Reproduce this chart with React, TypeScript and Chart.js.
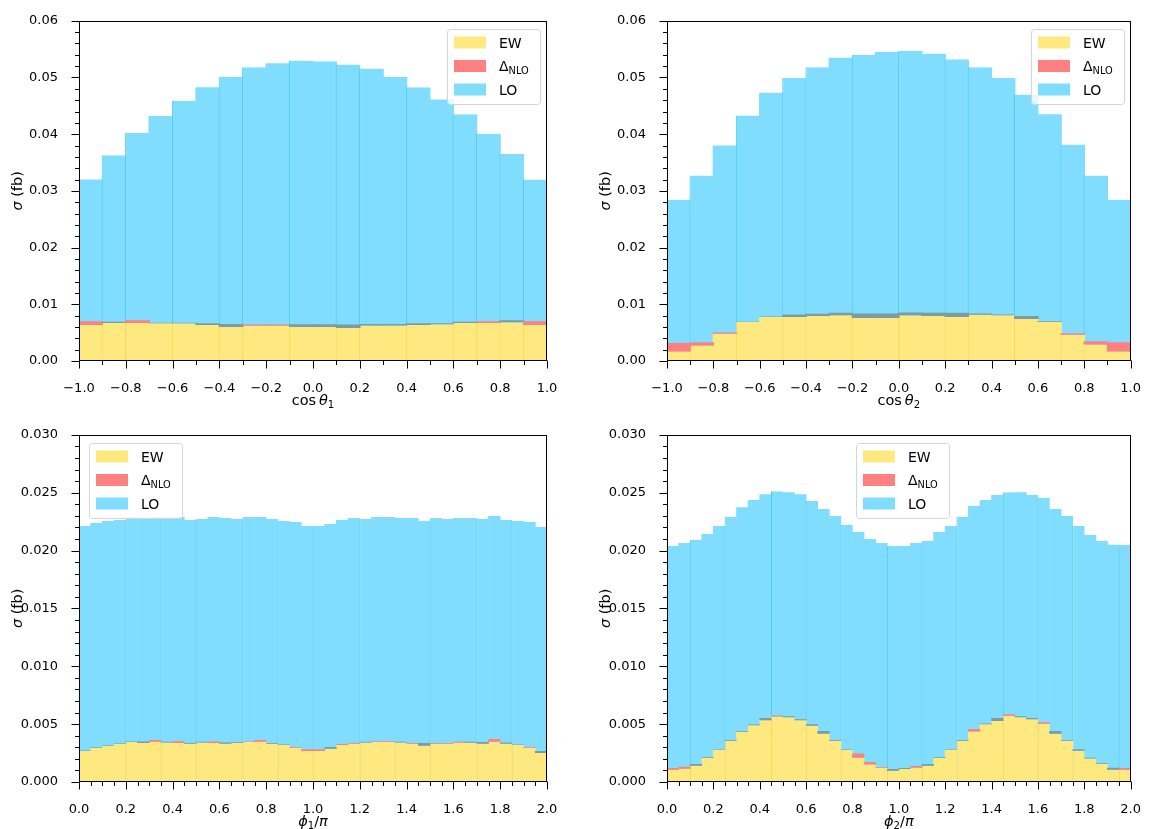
import React, { useEffect, useRef } from "react";
import { Chart, registerables } from "chart.js";

Chart.register(...registerables);

// ---------------- data ----------------
const cosEdges = [-1.0, -0.9, -0.8, -0.7, -0.6, -0.5, -0.4, -0.3, -0.2, -0.1, 0.0, 0.1, 0.2, 0.3, 0.4, 0.5, 0.6, 0.7, 0.8, 0.9, 1.0];
const phiEdges = [
  0.0, 0.05, 0.1, 0.15, 0.2, 0.25, 0.3, 0.35, 0.4, 0.45, 0.5, 0.55, 0.6, 0.65, 0.7, 0.75, 0.8, 0.85, 0.9, 0.95,
  1.0, 1.05, 1.1, 1.15, 1.2, 1.25, 1.3, 1.35, 1.4, 1.45, 1.5, 1.55, 1.6, 1.65, 1.7, 1.75, 1.8, 1.85, 1.9, 1.95, 2.0,
];

const cosTicks = [-1.0, -0.8, -0.6, -0.4, -0.2, 0.0, 0.2, 0.4, 0.6, 0.8, 1.0];
const cosTickLabels = ["−1.0", "−0.8", "−0.6", "−0.4", "−0.2", "0.0", "0.2", "0.4", "0.6", "0.8", "1.0"];
const phiTicks = [0.0, 0.2, 0.4, 0.6, 0.8, 1.0, 1.2, 1.4, 1.6, 1.8, 2.0];
const phiTickLabels = ["0.0", "0.2", "0.4", "0.6", "0.8", "1.0", "1.2", "1.4", "1.6", "1.8", "2.0"];
const yTicksTop = [0.0, 0.01, 0.02, 0.03, 0.04, 0.05, 0.06];
const yTickLabelsTop = ["0.00", "0.01", "0.02", "0.03", "0.04", "0.05", "0.06"];
const yTicksBottom = [0.0, 0.005, 0.01, 0.015, 0.02, 0.025, 0.03];
const yTickLabelsBottom = ["0.000", "0.005", "0.010", "0.015", "0.020", "0.025", "0.030"];

const legendLabels = ["EW", "Δ", "LO"];
const legendSub = ["", "NLO", ""];

// cos theta_1
const loCos1 = [0.0320, 0.0363, 0.0402, 0.0432, 0.0459, 0.0483, 0.0501, 0.0518, 0.0525, 0.0530, 0.0528, 0.0523, 0.0516, 0.0501, 0.0483, 0.0461, 0.0435, 0.0401, 0.0365, 0.0320];
const ewCos1 = [0.00636, 0.00671, 0.00670, 0.00665, 0.00665, 0.00636, 0.00601, 0.00620, 0.00620, 0.00601, 0.00601, 0.00584, 0.00624, 0.00624, 0.00636, 0.00647, 0.00670, 0.00670, 0.00682, 0.00636];
const dnloCos1 = [0.00063, -0.00023, 0.00047, -0.00011, -0.00011, -0.00030, -0.00052, 0.00022, 0.00022, -0.00046, -0.00046, -0.00058, -0.00030, -0.00030, -0.00030, -0.00017, -0.00023, 0.00029, -0.00035, 0.00063];

// cos theta_2
const loCos2 = [0.0284, 0.0327, 0.0380, 0.0433, 0.0473, 0.0499, 0.0518, 0.0535, 0.0540, 0.0545, 0.0547, 0.0542, 0.0532, 0.0518, 0.0499, 0.0470, 0.0435, 0.0382, 0.0327, 0.0284];
const ewCos2 = [0.00168, 0.00272, 0.00480, 0.00688, 0.00775, 0.00775, 0.00792, 0.00809, 0.00757, 0.00757, 0.00809, 0.00792, 0.00775, 0.00815, 0.00809, 0.00740, 0.00688, 0.00462, 0.00289, 0.00168];
const dnloCos2 = [0.00150, 0.00057, 0.00023, -0.00006, -0.00011, -0.00046, -0.00040, -0.00041, -0.00081, -0.00081, -0.00046, -0.00058, -0.00075, -0.00023, -0.00012, -0.00052, -0.00011, 0.00029, 0.00058, 0.00161];

// phi_1 / pi
const loPhi1 = [
  0.02212, 0.02238, 0.02255, 0.02264, 0.02289, 0.02272, 0.02289, 0.02289, 0.02289, 0.02264,
  0.02272, 0.02289, 0.02281, 0.02272, 0.02289, 0.02289, 0.02272, 0.02255, 0.02246, 0.02212,
  0.02212, 0.02229, 0.02264, 0.02281, 0.02272, 0.02289, 0.02289, 0.02281, 0.02281, 0.02255,
  0.02281, 0.02272, 0.02281, 0.02281, 0.02272, 0.02298, 0.02264, 0.02255, 0.02246, 0.02203,
];
const ewPhi1 = [
  0.00267, 0.00293, 0.00310, 0.00328, 0.00345, 0.00336, 0.00348, 0.00342, 0.00336, 0.00330,
  0.00342, 0.00336, 0.00330, 0.00339, 0.00345, 0.00348, 0.00330, 0.00319, 0.00296, 0.00267,
  0.00267, 0.00287, 0.00319, 0.00330, 0.00342, 0.00345, 0.00345, 0.00342, 0.00330, 0.00313,
  0.00330, 0.00330, 0.00339, 0.00339, 0.00330, 0.00348, 0.00330, 0.00325, 0.00296, 0.00250,
];
const dnloPhi1 = [
  -0.00006, -0.00006, -0.00006, -0.00005, -0.00006, -0.00015, 0.00014, -0.00006, 0.00017, -0.00006,
  -0.00006, 0.00014, -0.00012, -0.00006, 0.00006, 0.00014, -0.00006, -0.00006, 0.00006, 0.00015,
  0.00017, -0.00015, 0.00009, 0.00006, -0.00006, 0.00008, 0.00008, -0.00006, 0.00006, -0.00023,
  0.00006, 0.00006, 0.00009, -0.00009, -0.00015, 0.00023, -0.00012, -0.00003, 0.00006, -0.00017,
];

// phi_2 / pi
const loPhi2 = [
  0.02040, 0.02066, 0.02092, 0.02143, 0.02212, 0.02289, 0.02375, 0.02436, 0.02487, 0.02513,
  0.02504, 0.02487, 0.02427, 0.02358, 0.02298, 0.02221, 0.02160, 0.02100, 0.02066, 0.02040,
  0.02040, 0.02066, 0.02083, 0.02160, 0.02212, 0.02289, 0.02384, 0.02436, 0.02479, 0.02504,
  0.02504, 0.02479, 0.02453, 0.02358, 0.02298, 0.02212, 0.02135, 0.02083, 0.02049, 0.02049,
];
const ewPhi2 = [
  0.00106, 0.00115, 0.00141, 0.00207, 0.00279, 0.00356, 0.00434, 0.00491, 0.00534, 0.00566,
  0.00560, 0.00534, 0.00486, 0.00417, 0.00356, 0.00279, 0.00210, 0.00152, 0.00124, 0.00098,
  0.00112, 0.00124, 0.00141, 0.00207, 0.00279, 0.00356, 0.00437, 0.00500, 0.00526, 0.00572,
  0.00560, 0.00543, 0.00503, 0.00417, 0.00356, 0.00270, 0.00204, 0.00158, 0.00106, 0.00106,
];
const dnloPhi2 = [
  0.00015, 0.00017, -0.00014, -0.00006, -0.00005, -0.00006, -0.00006, -0.00006, -0.00018, 0.00009,
  -0.00009, -0.00009, -0.00014, -0.00023, -0.00006, -0.00005, 0.00037, 0.00020, 0.00005, -0.00014,
  -0.00009, 0.00014, -0.00014, -0.00006, -0.00005, -0.00006, 0.00020, -0.00006, -0.00026, 0.00014,
  -0.00009, -0.00009, 0.00014, -0.00023, -0.00006, -0.00014, -0.00006, -0.00006, -0.00018, 0.00015,
];

// ---------------- style ----------------
const FONT = "'DejaVu Sans', 'Liberation Sans', sans-serif";
const BLUE = "#80ddfd";
const YELLOW = "#fee981";
const RED = "#fe8080";
const GREY = "#7d9ca2";
const BLUE_SEAM = "#4ccaee";
const YELLOW_SEAM = "#fdd84c";
const TICK_FONT = 13;
const LABEL_FONT = 14.5;
const LEGEND_FONT = 14;

const seamsCos1 = [-0.9, -0.8, -0.6, -0.4, -0.3, -0.1, 0.1, 0.2, 0.4, 0.6, 0.7, 0.8, 0.9];
const seamsCos2 = [-0.9, -0.7, -0.5, -0.4, -0.2, 0.0, 0.2, 0.3, 0.5, 0.7, 0.8];
const seamsPhi1 = [0.2, 0.35, 0.5, 0.7, 0.85, 1.0, 1.2, 1.35, 1.5, 1.7, 1.85];
const seamsPhi2 = [0.1, 0.25, 0.45, 0.6, 0.75, 0.95, 1.1, 1.25, 1.45, 1.6, 1.75, 1.95];

type Run = { t: string; it?: boolean; sub?: boolean };

function runFont(r: Run, size: number) {
  const s = r.sub ? size * 0.7 : size;
  return `${r.it ? "italic " : ""}${s}px ${FONT}`;
}

function drawRuns(ctx: CanvasRenderingContext2D, runs: Run[], size: number, x: number, baseline: number, align: "left" | "center") {
  let total = 0;
  const widths = runs.map((r) => {
    ctx.font = runFont(r, size);
    const w = ctx.measureText(r.t).width;
    total += w;
    return w;
  });
  let cx = align === "center" ? x - total / 2 : x;
  ctx.textAlign = "left";
  ctx.textBaseline = "alphabetic";
  runs.forEach((r, i) => {
    ctx.font = runFont(r, size);
    ctx.fillText(r.t, cx, baseline + (r.sub ? size * 0.24 : 0));
    cx += widths[i];
  });
}

type PanelProps = {
  x: number; y: number; w: number; h: number;
  area: { left: number; top: number; right: number; bottom: number };
  edges: number[]; lo: number[]; ew: number[]; dnlo: number[];
  xTicks: number[]; xTickLabels: string[]; xMinorStep: number;
  yTicks: number[]; yTickLabels: string[]; yMinorStep: number; yMax: number;
  xLabel: Run[]; legend: "left" | "right" | "center"; seams: number[];
};

function Panel(p: PanelProps) {
  const ref = useRef<HTMLCanvasElement>(null);
  useEffect(() => {
    const canvas = ref.current;
    if (!canvas) return;
    const n = p.lo.length;
    const centers = p.lo.map((_, i) => (p.edges[i] + p.edges[i + 1]) / 2);
    const seamIdx = new Set(p.seams.map((s) => p.edges.findIndex((e) => Math.abs(e - s) < 1e-9)));
    const seamBorder = (c: any) => (seamIdx.has(c.dataIndex) ? { left: 1, right: 0, top: 0, bottom: 0 } : 0);
    const A = p.area;
    const xMin = p.edges[0];
    const xMax = p.edges[n];

    const decor = {
      id: "decor",
      afterDraw(chart: any) {
        const ctx: CanvasRenderingContext2D = chart.ctx;
        const xs = chart.scales.x;
        const ys = chart.scales.y;
        const L = Math.round(xs.left) + 0.5;
        const R = Math.round(xs.right) - 0.5;
        const T = Math.round(ys.top) + 0.5;
        const B = Math.round(ys.bottom) - 0.5;
        ctx.save();
        ctx.strokeStyle = "#000";
        ctx.lineWidth = 1;
        ctx.strokeRect(L, T, R - L, B - T);
        ctx.beginPath();
        // x ticks
        const xMajor = p.xTicks;
        for (let v = xMin; v <= xMax + 1e-9; v += p.xMinorStep) {
          const isMajor = xMajor.some((m) => Math.abs(m - v) < 1e-6);
          const px = Math.round(xs.getPixelForValue(v)) + 0.5;
          ctx.moveTo(px, B);
          ctx.lineTo(px, B + (isMajor ? 8 : 4.5));
        }
        // y ticks
        for (let v = 0; v <= p.yMax + 1e-9; v += p.yMinorStep) {
          const isMajor = p.yTicks.some((m) => Math.abs(m - v) < 1e-7);
          const py = Math.round(ys.getPixelForValue(v)) + 0.5;
          ctx.moveTo(L, py);
          ctx.lineTo(L - (isMajor ? 8 : 4.5), py);
        }
        ctx.stroke();

        ctx.fillStyle = "#000";
        // x label
        drawRuns(ctx, p.xLabel, LABEL_FONT, (xs.left + xs.right) / 2, ys.bottom + 44, "center");
        // y label
        ctx.save();
        ctx.translate(xs.left - 57, (ys.top + ys.bottom) / 2);
        ctx.rotate(-Math.PI / 2);
        drawRuns(ctx, [{ t: "σ", it: true }, { t: " (fb)" }], LABEL_FONT, 0, 0, "center");
        ctx.restore();

        // legend
        const lw = 93;
        const lh = 75;
        let lx = xs.right - 7 - lw;
        if (p.legend === "left") lx = xs.left + 10;
        if (p.legend === "center") lx = (xs.left + xs.right) / 2 - lw / 2 + 4;
        lx = Math.round(lx) + 0.5;
        const ly = Math.round(ys.top + 8) + 0.5;
        ctx.beginPath();
        const r = 3;
        ctx.moveTo(lx + r, ly);
        ctx.lineTo(lx + lw - r, ly);
        ctx.quadraticCurveTo(lx + lw, ly, lx + lw, ly + r);
        ctx.lineTo(lx + lw, ly + lh - r);
        ctx.quadraticCurveTo(lx + lw, ly + lh, lx + lw - r, ly + lh);
        ctx.lineTo(lx + r, ly + lh);
        ctx.quadraticCurveTo(lx, ly + lh, lx, ly + lh - r);
        ctx.lineTo(lx, ly + r);
        ctx.quadraticCurveTo(lx, ly, lx + r, ly);
        ctx.closePath();
        ctx.fillStyle = "rgba(255,255,255,0.8)";
        ctx.fill();
        ctx.strokeStyle = "#d5d5d5";
        ctx.stroke();
        const colors = [YELLOW, RED, BLUE];
        const rowOff = [13, 36.5, 60];
        legendLabels.forEach((lab, i) => {
          const cy = ly + rowOff[i];
          ctx.fillStyle = colors[i];
          ctx.fillRect(lx + 6.5, cy - 6, 32, 12);
          ctx.fillStyle = "#000";
          const runs: Run[] = [{ t: lab }];
          if (legendSub[i]) runs.push({ t: legendSub[i], sub: true });
          drawRuns(ctx, runs, LEGEND_FONT, lx + 51.5, cy + 5, "left");
        });
        ctx.restore();
      },
    };

    const chart = new Chart(canvas, {
      type: "bar",
      data: {
        datasets: [
          {
            label: "dNLO",
            data: centers.map((c, i) => ({ x: c, y: [p.ew[i], p.ew[i] + Math.abs(p.dnlo[i])] })),
            backgroundColor: (c: any) => (p.dnlo[c.dataIndex] >= 0 ? RED : GREY),
            borderWidth: 0,
            order: 1,
          },
          {
            label: "EW",
            data: centers.map((c, i) => ({ x: c, y: [0, p.ew[i]] })),
            backgroundColor: YELLOW,
            borderColor: YELLOW_SEAM,
            borderWidth: seamBorder,
            order: 2,
          },
          {
            label: "LO",
            data: centers.map((c, i) => ({ x: c, y: [0, p.lo[i]] })),
            backgroundColor: BLUE,
            borderColor: BLUE_SEAM,
            borderWidth: seamBorder,
            order: 3,
          },
        ],
      } as any,
      options: {
        animation: false,
        responsive: false,
        maintainAspectRatio: false,
        layout: { padding: { left: 0, top: A.top, right: p.w - A.right, bottom: 0 } },
        plugins: { legend: { display: false }, tooltip: { enabled: false } },
        datasets: { bar: { grouped: false, barPercentage: 1.06, categoryPercentage: 1, borderSkipped: false } } as any,
        scales: {
          x: {
            type: "linear",
            min: xMin,
            max: xMax,
            offset: false,
            afterFit: (s: any) => {
              s.height = p.h - A.bottom;
            },
            afterBuildTicks: (s: any) => {
              s.ticks = p.xTicks.map((v) => ({ value: v }));
            },
            ticks: {
              autoSkip: false,
              maxRotation: 0,
              padding: 12,
              color: "#000",
              font: { family: FONT, size: TICK_FONT },
              callback: (_v: any, i: number) => p.xTickLabels[i],
            },
            grid: { display: false },
            border: { display: false },
          },
          y: {
            min: 0,
            max: p.yMax,
            afterFit: (s: any) => {
              s.width = A.left;
            },
            afterBuildTicks: (s: any) => {
              s.ticks = p.yTicks.map((v) => ({ value: v }));
            },
            ticks: {
              autoSkip: false,
              padding: 13,
              color: "#000",
              font: { family: FONT, size: TICK_FONT },
              callback: (_v: any, i: number) => p.yTickLabels[i],
            },
            grid: { display: false },
            border: { display: false },
          },
        } as any,
      },
      plugins: [decor],
    } as any);
    return () => chart.destroy();
  }, []);
  return (
    <canvas
      ref={ref}
      width={p.w}
      height={p.h}
      style={{ position: "absolute", left: p.x, top: p.y, width: p.w, height: p.h }}
    />
  );
}

export default function App() {
  return (
    <div style={{ position: "absolute", left: 0, top: 0, width: 1153, height: 829, background: "#fff" }}>
      <Panel
        x={0} y={0} w={576} h={414}
        area={{ left: 79, top: 12, right: 547, bottom: 361 }}
        edges={cosEdges} lo={loCos1} ew={ewCos1} dnlo={dnloCos1}
        xTicks={cosTicks} xTickLabels={cosTickLabels} xMinorStep={0.1}
        yTicks={yTicksTop} yTickLabels={yTickLabelsTop} yMinorStep={0.002} yMax={0.06}
        xLabel={[{ t: "cos\u2009" }, { t: "θ", it: true }, { t: "1", sub: true }]}
        legend="right" seams={seamsCos1}
      />
      <Panel
        x={576} y={0} w={577} h={414}
        area={{ left: 91, top: 12, right: 559, bottom: 361 }}
        edges={cosEdges} lo={loCos2} ew={ewCos2} dnlo={dnloCos2}
        xTicks={cosTicks} xTickLabels={cosTickLabels} xMinorStep={0.1}
        yTicks={yTicksTop} yTickLabels={yTickLabelsTop} yMinorStep={0.002} yMax={0.06}
        xLabel={[{ t: "cos\u2009" }, { t: "θ", it: true }, { t: "2", sub: true }]}
        legend="right" seams={seamsCos2}
      />
      <Panel
        x={0} y={414} w={576} h={415}
        area={{ left: 79, top: 20, right: 547, bottom: 368 }}
        edges={phiEdges} lo={loPhi1} ew={ewPhi1} dnlo={dnloPhi1}
        xTicks={phiTicks} xTickLabels={phiTickLabels} xMinorStep={0.05}
        yTicks={yTicksBottom} yTickLabels={yTickLabelsBottom} yMinorStep={0.001} yMax={0.03}
        xLabel={[{ t: "ϕ", it: true }, { t: "1", sub: true }, { t: "/" }, { t: "π", it: true }]}
        legend="left" seams={seamsPhi1}
      />
      <Panel
        x={576} y={414} w={577} h={415}
        area={{ left: 91, top: 20, right: 559, bottom: 368 }}
        edges={phiEdges} lo={loPhi2} ew={ewPhi2} dnlo={dnloPhi2}
        xTicks={phiTicks} xTickLabels={phiTickLabels} xMinorStep={0.05}
        yTicks={yTicksBottom} yTickLabels={yTickLabelsBottom} yMinorStep={0.001} yMax={0.03}
        xLabel={[{ t: "ϕ", it: true }, { t: "2", sub: true }, { t: "/" }, { t: "π", it: true }]}
        legend="center" seams={seamsPhi2}
      />
    </div>
  );
}
